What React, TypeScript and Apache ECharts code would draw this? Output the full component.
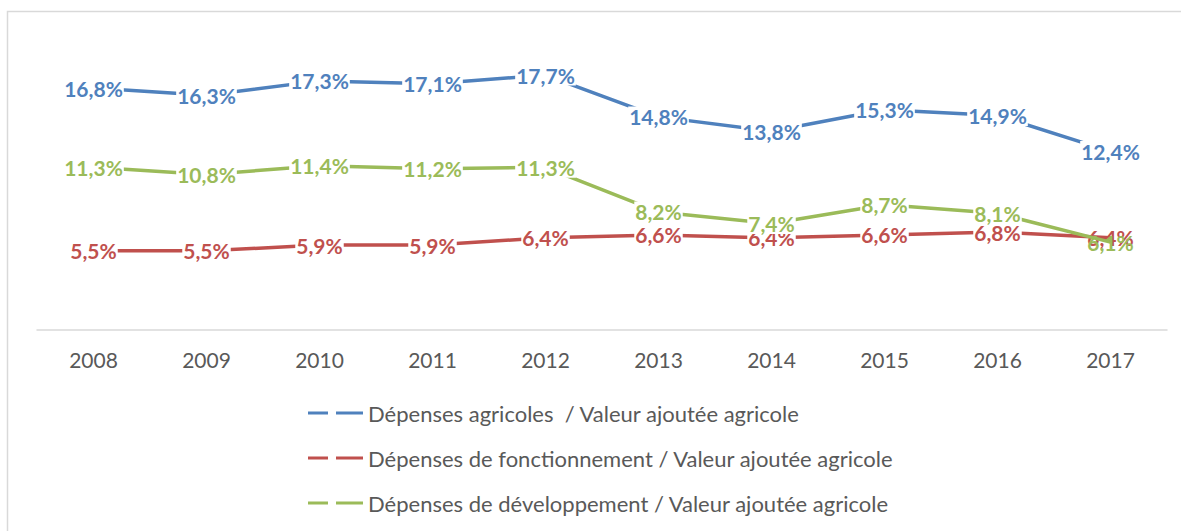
import React, { useEffect, useRef } from "react";
import * as echarts from "echarts";

const years = ["2008", "2009", "2010", "2011", "2012", "2013", "2014", "2015", "2016", "2017"];
const agricoles = [16.8, 16.3, 17.3, 17.1, 17.7, 14.8, 13.8, 15.3, 14.9, 12.4];
const fonctionnement = [5.5, 5.5, 5.9, 5.9, 6.4, 6.6, 6.4, 6.6, 6.8, 6.4];
const developpement = [11.3, 10.8, 11.4, 11.2, 11.3, 8.2, 7.4, 8.7, 8.1, 6.1];

const seriesNames = [
  "Dépenses agricoles  / Valeur ajoutée agricole",
  "Dépenses de fonctionnement / Valeur ajoutée agricole",
  "Dépenses de développement / Valeur ajoutée agricole",
];
const colors = ["#4F81BD", "#C0504D", "#9BBB59"];

const FONT = "Lato, 'Noto Sans', sans-serif";

export default function App() {
  const ref = useRef<HTMLDivElement>(null);
  useEffect(() => {
    if (!ref.current) return;
    const chart = echarts.init(ref.current, undefined, { renderer: "svg" });
    const datasets = [agricoles, fonctionnement, developpement];
    const lastIdx = years.length - 1;
    chart.setOption({
      animation: false,
      backgroundColor: "#ffffff",
      grid: { left: 37, right: 14, top: 42, bottom: 201, containLabel: false },
      xAxis: {
        type: "category",
        data: years,
        boundaryGap: true,
        axisLine: { lineStyle: { color: "#d9d9d9", width: 1.5 } },
        axisTick: { show: false },
        axisLabel: { color: "#595959", fontSize: 21, fontFamily: FONT, margin: 19 },
      },
      yAxis: {
        type: "value",
        min: 0,
        max: 20,
        show: false,
        splitLine: { show: false },
      },
      legend: {
        orient: "vertical",
        left: 303,
        top: 397,
        itemWidth: 55,
        itemHeight: 14,
        itemGap: 23,
        icon: "path://M0,6 L20,6 L20,9 L0,9 Z M28,6 L55,6 L55,9 L28,9 Z",
        itemStyle: { opacity: 1 },
        textStyle: { color: "#595959", fontSize: 22, fontFamily: FONT },
        data: seriesNames,
      },
      graphic: [
        {
          type: "rect",
          shape: { x: 7.5, y: 11.5, width: 1200, height: 600 },
          style: { fill: "none", stroke: "#d9d9d9", lineWidth: 1.5 },
          silent: true,
        },
      ],
      series: datasets.map((d, i) => ({
        name: seriesNames[i],
        type: "line",
        data: d.map((v, j) => ({
          value: v,
          label: i > 0 && j === lastIdx ? { backgroundColor: "transparent" } : {},
        })),
        symbol: "circle",
        symbolSize: 0,
        showSymbol: true,
        color: colors[i],
        itemStyle: { color: colors[i] },
        lineStyle: { color: colors[i], width: 3.5 },
        label: {
          show: true,
          position: "inside",
          color: colors[i],
          fontSize: 21,
          fontWeight: "bold",
          fontFamily: FONT,
          backgroundColor: "#ffffff",
          padding: [0, 1],
          formatter: (p: any) => Number(p.value).toFixed(1).replace(".", ",") + "%",
        },
        z: 2 + i,
      })),
    });
    return () => chart.dispose();
  }, []);
  return (
    <div
      ref={ref}
      style={{ position: "absolute", left: 0, top: 0, width: 1181, height: 531 }}
    />
  );
}
